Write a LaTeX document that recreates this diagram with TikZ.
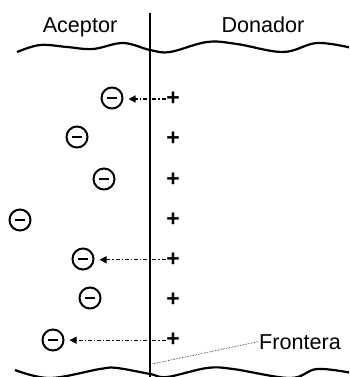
\documentclass[tikz,border=0pt]{standalone}
\usepackage{fontspec}
\setmainfont{Liberation Sans}
\usepackage{tikz}
\usetikzlibrary{arrows.meta}

\begin{document}
\begin{tikzpicture}[
  x=1pt, y=-1pt,
  anion/.style={circle, draw, line width=2pt, minimum size=21pt, inner sep=0pt},
  cation/.style={inner sep=0.5pt, font=\fontsize{23}{25}\selectfont\bfseries},
  region/.style={inner sep=1pt, font=\fontsize{21.6}{24}\selectfont},
  wave/.style={line width=2.2pt},
  flow/.style={-{Triangle[length=7pt, width=7pt]}, line width=1.2pt,
               dash pattern=on 4pt off 2pt on 1.2pt off 2pt, shorten >=5pt}
]
  \useasboundingbox (0,0) rectangle (349,377);
  \clip (0,0) rectangle (349,377);

  % region labels
  \node[region, anchor=base] (acc) at (80,33) {Aceptor};
  \node[region, anchor=base] (don) at (263,33) {Donador};

  % junction line
  \coordinate (jtop) at (150,13);
  \coordinate (jbot) at (150,380);
  \draw[line width=2.6pt] (jtop) -- (jbot);

  % broken edges of the material
  \draw[wave] plot[smooth, tension=0.6] coordinates {(17,52) (40,45) (67,47) (93,49)
    (123,43) (150,50) (170,52) (207,42) (237,44) (283,52) (317,43) (352,48)};
  \draw[wave] plot[smooth, tension=0.6] coordinates {(15,370) (50,378) (100,369) (117,368)
    (150,374) (167,377) (207,368) (233,369) (290,378) (317,369) (352,373)};

  % positive ions on the donor side
  \foreach \i in {1,...,7}
    \node[cation] (p\i) at (173,{99+40.2*(\i-1)}) {+};

  % negative ions on the acceptor side
  \node[anion] (n1) at (112,98)  {\rule{10pt}{2.6pt}};
  \node[anion] (n2) at (77,137)  {\rule{10pt}{2.6pt}};
  \node[anion] (n3) at (104,179) {\rule{10pt}{2.6pt}};
  \node[anion] (n4) at (20,220)  {\rule{10pt}{2.6pt}};
  \node[anion] (n5) at (83,259)  {\rule{10pt}{2.6pt}};
  \node[anion] (n6) at (90,298)  {\rule{10pt}{2.6pt}};
  \node[anion] (n7) at (53,340)  {\rule{10pt}{2.6pt}};

  \draw[flow] (p1.west) -- (p1.west -| n1.east);
  \draw[flow] (p5.west) -- (p5.west -| n5.east);
  \draw[flow] (p7.west) -- (p7.west -| n7.east);

  % boundary label
  \node[region, anchor=base] (fr) at (300,349) {Frontera};
  \coordinate (fb) at (152,364);
  \draw[densely dotted, line width=0.6pt] (fr.west) -- (fb);
\end{tikzpicture}
\end{document}
